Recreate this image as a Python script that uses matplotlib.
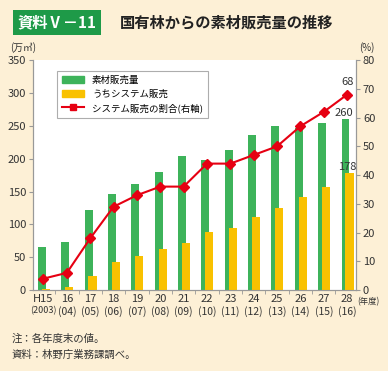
import numpy as np
import matplotlib.pyplot as plt
from matplotlib.patches import Rectangle
from matplotlib.lines import Line2D

plt.rcParams['font.family'] = ['Noto Sans CJK JP', 'DejaVu Sans']

# data
years = ["H15", "16", "17", "18", "19", "20", "21", "22", "23", "24", "25", "26", "27", "28"]
years_ad = ["(2003)", "(04)", "(05)", "(06)", "(07)", "(08)", "(09)", "(10)", "(11)", "(12)", "(13)", "(14)", "(15)", "(16)"]
sales = [66, 73, 122, 147, 161, 180, 204, 198, 213, 236, 250, 247, 255, 260]
system_sales = [1.5, 4, 21, 43, 52, 63, 72, 88, 94, 111, 125, 141, 157, 178]
system_ratio = [4, 6, 18, 29, 33, 36, 36, 44, 44, 47, 50, 57, 62, 68]

GREEN = "#3db35a"
YELLOW = "#f9c100"
RED = "#e60012"
BG = "#fdf0d6"
TXT = "#333333"
AXC = "#999999"

fig = plt.figure(figsize=(3.88, 3.71), dpi=100)
fig.patch.set_facecolor(BG)

ax = fig.add_axes([0.085, 0.218, 0.8325, 0.62])
ax.set_facecolor("white")
x = np.arange(len(years))

ax.bar(x - 0.07, sales, width=0.34, color=GREEN, zorder=2)
ax.bar(x + 0.1, system_sales, width=0.35, color=YELLOW, zorder=3)
ax.set_ylim(0, 350)
ax.set_yticks(range(0, 351, 50))
ax.set_xlim(-0.45, 13.38)
ax.set_xticks(x)
ax.set_xticklabels([])
ax.set_xticks(x[:-1] + 0.5, minor=True)
ax.tick_params(axis="x", which="major", length=0)
ax.tick_params(axis="x", which="minor", length=3, color=AXC, direction="out")
ax.tick_params(axis="y", length=3, color=AXC, labelsize=8, labelcolor=TXT, pad=2)
ax.spines["top"].set_visible(False)
for s in ["left", "bottom", "right"]:
    ax.spines[s].set_color(AXC)
    ax.spines[s].set_linewidth(0.8)

ax2 = ax.twinx()
ax2.plot(x, system_ratio, color=RED, lw=1.5, marker="D", ms=5, zorder=5)
ax2.set_ylim(0, 80)
ax2.set_yticks(range(0, 81, 10))
ax2.tick_params(axis="y", length=3, color=AXC, labelsize=8, labelcolor=TXT, pad=2)
ax2.spines["top"].set_visible(False)
for s in ["left", "bottom", "right"]:
    ax2.spines[s].set_color(AXC)
    ax2.spines[s].set_linewidth(0.8)

# value labels
ax2.text(x[-1], system_ratio[-1] + 2.5, "68", ha="center", va="bottom", fontsize=8, color=TXT)
ax.text(x[-1] - 0.15, sales[-1] + 2, "260", ha="center", va="bottom", fontsize=8, color=TXT)
ax.text(x[-1], system_sales[-1] + 2, "178", ha="center", va="bottom", fontsize=8, color=TXT)

# x labels (two lines)
for i in x:
    ax.text(i, -6, years[i], ha="center", va="top", fontsize=8, color=TXT)
    ax.text(i, -24, years_ad[i], ha="center", va="top",
            fontsize=6.5 if i == 0 else 7.5, color=TXT)
ax.text(13.45, -10, "(年度)", ha="left", va="top", fontsize=6, color=TXT, clip_on=False)

# legend
handles = [Rectangle((0, 0), 1, 1, color=GREEN), Rectangle((0, 0), 1, 1, color=YELLOW),
           Line2D([], [], color=RED, lw=1.5, marker="s", ms=5)]
leg = ax.legend(handles, ["素材販売量", "うちシステム販売", "システム販売の割合(右軸)"],
                loc="upper left", bbox_to_anchor=(0.06, 0.975), fontsize=6.8,
                frameon=True, fancybox=False, edgecolor="#999999",
                handlelength=2.4, handleheight=0.8, borderpad=0.5, labelspacing=0.5)
leg.get_frame().set_linewidth(0.8)
leg.set_zorder(10)

# title
fig.text(0.045, 0.94, "資料Ⅴ－11", fontsize=11, color="white", fontweight="bold",
         va="center", ha="left",
         bbox=dict(boxstyle="square,pad=0.3", fc="#1e9a48", ec="none"))
fig.text(0.31, 0.94, "国有林からの素材販売量の推移", fontsize=11, color="#222222",
         fontweight="bold", va="center", ha="left")

fig.text(0.025, 0.873, "(万㎥)", fontsize=7, color=TXT, va="center")
fig.text(0.925, 0.873, "(%)", fontsize=7, color=TXT, va="center")

fig.text(0.03, 0.086, "注：各年度末の値。", fontsize=7.5, color=TXT, va="center")
fig.text(0.03, 0.043, "資料：林野庁業務課調べ。", fontsize=7.5, color=TXT, va="center")

fig.savefig("out.png", dpi=100, facecolor=BG)
